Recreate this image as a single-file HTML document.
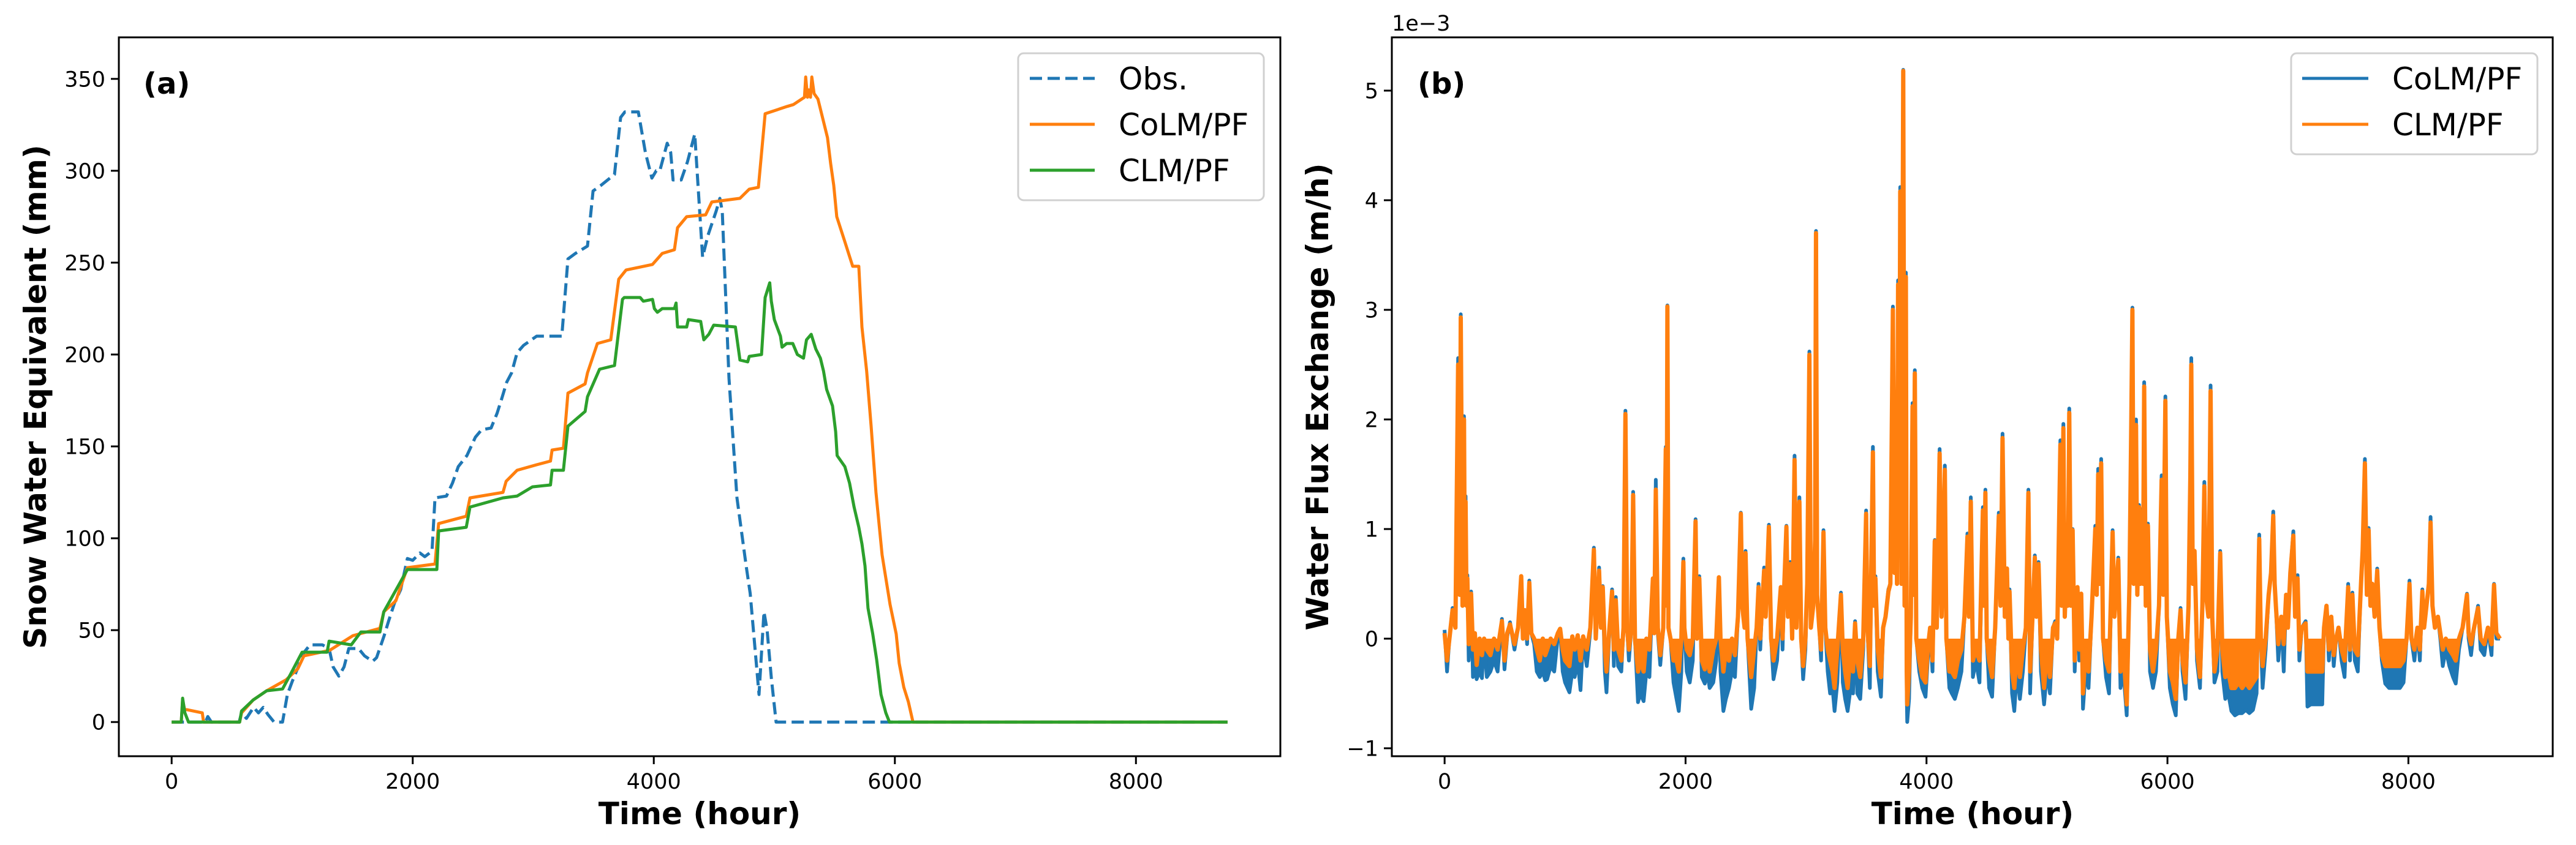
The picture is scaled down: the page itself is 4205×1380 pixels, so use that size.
<!DOCTYPE html>
<html><head><meta charset="utf-8"><style>
html,body{margin:0;padding:0;background:#fff;}
svg{display:block;font-family:"DejaVu Sans","Liberation Sans",sans-serif;}
</style></head><body>
<svg id="fig" width="4205" height="1380" viewBox="0 0 4205 1380" xmlns="http://www.w3.org/2000/svg">
<rect width="4205" height="1380" fill="#fff"/>
<g id="pa"></g>
<g id="pb"></g>
</svg>
<script>
// ---------- Panel (a) data: [hour, mm] ----------
const obsSWE = [[0,0],[280,0],[300,3],[330,0],[560,0],[580,5],[620,2],[680,8],[720,5],[760,8],[800,4],[850,0],[920,0],[960,15],[1000,22],[1050,30],[1100,38],[1148,42],[1250,42],[1306,40],[1340,30],[1387,25],[1430,30],[1470,40],[1550,40],[1600,36],[1667,33],[1700,35],[1763,47],[1800,55],[1850,65],[1900,72],[1956,89],[2000,88],[2060,92],[2100,90],[2160,93],[2185,122],[2280,123],[2330,130],[2378,139],[2450,145],[2520,155],[2571,159],[2650,160],[2700,168],[2734,175],[2780,185],[2820,190],[2866,201],[2920,205],[3028,210],[3237,210],[3288,252],[3350,255],[3450,259],[3496,289],[3560,292],[3674,298],[3725,329],[3760,332],[3872,332],[3930,310],[3984,296],[4020,300],[4050,300],[4111,315],[4140,310],[4160,295],[4227,295],[4280,305],[4340,320],[4405,253],[4450,265],[4517,278],[4548,285],[4568,278],[4624,187],[4690,122],[4766,85],[4800,70],[4873,15],[4914,60],[4940,50],[4975,24],[5015,0],[8760,0]];
const colmSWE = [[0,0],[80,0],[91,12],[107,7],[254,5],[265,0],[564,0],[580,5],[676,12],[788,17],[950,23],[1047,29],[1098,36],[1311,39],[1504,47],[1728,51],[1760,60],[1860,66],[1956,84],[2185,86],[2215,108],[2444,112],[2475,122],[2749,125],[2775,131],[2866,137],[3028,140],[3143,142],[3156,148],[3250,149],[3288,179],[3430,184],[3450,190],[3532,206],[3643,208],[3709,241],[3770,246],[3989,249],[4070,255],[4171,257],[4197,269],[4273,275],[4430,276],[4481,283],[4715,285],[4792,290],[4868,291],[4924,331],[5107,335],[5158,336],[5250,340],[5260,351],[5275,340],[5286,344],[5300,340],[5311,351],[5330,342],[5362,339],[5441,318],[5467,304],[5493,292],[5518,275],[5582,262],[5650,248],[5701,248],[5727,215],[5766,191],[5803,161],[5843,125],[5894,91],[5960,64],[6011,48],[6036,32],[6074,19],[6112,11],[6150,0],[8760,0]];
const clmSWE = [[0,0],[80,0],[91,13],[110,5],[140,0],[564,0],[580,6],[676,12],[788,17],[920,18],[986,26],[1082,38],[1290,38],[1306,44],[1490,42],[1570,49],[1728,49],[1760,60],[1956,83],[2200,83],[2215,104],[2444,106],[2475,117],[2749,122],[2866,123],[2993,128],[3143,129],[3156,137],[3250,137],[3288,161],[3430,169],[3450,177],[3550,192],[3674,194],[3740,230],[3755,231],[3887,231],[3913,229],[3989,230],[4005,225],[4030,223],[4070,225],[4171,225],[4185,228],[4197,215],[4273,215],[4287,219],[4389,218],[4415,208],[4456,211],[4497,216],[4677,215],[4715,197],[4779,196],[4792,199],[4894,200],[4924,231],[4962,239],[4975,229],[5000,219],[5051,210],[5064,204],[5102,206],[5153,206],[5191,200],[5242,198],[5267,208],[5306,211],[5344,203],[5382,198],[5408,191],[5434,181],[5483,172],[5509,158],[5521,145],[5585,139],[5624,130],[5662,117],[5701,106],[5727,97],[5752,85],[5777,62],[5816,48],[5849,34],[5885,15],[5925,5],[5955,0],[8760,0]];
const xTicks = [0,2000,4000,6000,8000];
const yTicksA = [0,50,100,150,200,250,300,350];
const yTicksB = [-1,0,1,2,3,4,5];
// ---------- Panel (b) data: [hour, CLM/PF (1e-3 m/h), CoLM/PF (1e-3 m/h)] ----------
const fluxRecords = [[0,0.05,0.08],[20,-0.2,-0.3],[40,0,0],[66,0.26,0.28],[90,0.1,0.1],[112,2.5,2.56],[125,0.4,0.4],[134,2.93,2.96],[149,0.3,0.3],[161,2.0,2.03],[168,0.4,0.4],[174,1.25,1.3],[182,0.3,0.3],[189,0.55,0.58],[200,-0.05,-0.2],[220,0.41,0.43],[235,-0.1,-0.35],[251,0.05,0.05],[266,-0.24,-0.37],[290,0,-0.3],[310,-0.15,-0.36],[328,0,0],[350,-0.1,-0.35],[380,-0.15,-0.3],[410,0,-0.2],[440,-0.1,-0.3],[476,0.16,0.18],[497,-0.2,-0.28],[520,0.05,0.02],[543,0.13,0.15],[580,-0.05,-0.1],[610,0.1,0.1],[636,0.57,0.57],[650,0,0],[666,0.26,0.26],[685,0,-0.05],[703,0.51,0.53],[720,0.05,0.05],[743,0,-0.05],[765,-0.1,-0.3],[790,-0.2,-0.35],[815,0,-0.3],[835,-0.15,-0.38],[851,-0.1,-0.37],[880,0,-0.25],[910,-0.05,-0.3],[940,0.05,0.02],[959,0.09,0.09],[980,-0.1,-0.3],[1000,-0.2,-0.4],[1036,-0.25,-0.49],[1060,0.02,-0.3],[1080,-0.1,-0.35],[1105,0.03,-0.2],[1128,-0.2,-0.47],[1150,0.02,0],[1180,-0.1,-0.25],[1210,0.1,0.08],[1239,0.81,0.83],[1255,0,0],[1282,0.62,0.65],[1298,0.1,0.1],[1313,0.47,0.48],[1330,-0.1,-0.3],[1344,-0.3,-0.49],[1365,0.05,0],[1390,0.43,0.45],[1405,-0.1,-0.25],[1421,0.35,0.38],[1440,-0.1,-0.25],[1467,-0.2,-0.3],[1485,0.1,0.1],[1501,2.05,2.08],[1515,0.1,0.1],[1530,-0.1,-0.2],[1550,0.1,0.1],[1565,1.31,1.34],[1580,0,0],[1605,-0.3,-0.58],[1625,-0.2,-0.5],[1652,-0.3,-0.57],[1675,0,-0.3],[1700,-0.1,-0.35],[1729,0.55,0.55],[1740,0.05,0.05],[1753,1.36,1.45],[1770,0.1,0.05],[1790,-0.15,-0.24],[1815,0.1,0.1],[1836,1.73,1.75],[1843,0.3,0.3],[1849,3.03,3.04],[1858,0.1,0.1],[1875,0,0],[1900,-0.2,-0.4],[1925,-0.2,-0.55],[1944,-0.3,-0.66],[1965,0,-0.3],[1982,0.7,0.73],[1990,0.1,0.1],[2010,-0.1,-0.3],[2035,-0.15,-0.4],[2060,0,-0.2],[2083,1.07,1.09],[2095,0,0],[2114,0.55,0.57],[2135,-0.2,-0.35],[2160,-0.28,-0.41],[2180,-0.1,-0.3],[2200,-0.3,-0.45],[2230,-0.1,-0.4],[2255,0,-0.2],[2277,0.56,0.56],[2290,0,-0.3],[2314,-0.3,-0.66],[2335,-0.1,-0.55],[2360,-0.2,-0.45],[2385,0,-0.3],[2410,-0.15,-0.35],[2435,0.2,0.2],[2459,1.14,1.15],[2470,0.3,0.3],[2490,0.1,0.1],[2498,0.78,0.8],[2515,0,0],[2545,-0.35,-0.64],[2570,-0.1,-0.45],[2590,0.1,0.1],[2606,0.47,0.5],[2620,0,-0.1],[2636,0.3,0.3],[2652,0.62,0.65],[2665,0.2,0.2],[2692,1.02,1.04],[2710,0,0],[2730,-0.2,-0.37],[2760,0,-0.2],[2791,0.47,0.47],[2805,0,-0.1],[2820,0.5,0.5],[2837,1.02,1.03],[2850,0.2,0.2],[2868,0.68,0.7],[2885,0,0],[2905,1.63,1.67],[2920,0.1,0.1],[2945,1.25,1.29],[2960,0,0],[2976,-0.25,-0.37],[2995,0,-0.1],[3010,0.5,0.5],[3028,2.59,2.62],[3040,0.1,0.1],[3060,0.3,0.3],[3075,0.9,0.9],[3083,3.7,3.72],[3092,0.4,0.4],[3110,0.1,0.1],[3125,-0.1,-0.2],[3145,0.97,0.99],[3160,0.1,0.1],[3180,-0.1,-0.3],[3200,-0.2,-0.5],[3220,-0.3,-0.45],[3237,-0.45,-0.66],[3260,-0.1,-0.4],[3290,0.4,0.42],[3305,-0.1,-0.4],[3325,-0.3,-0.55],[3345,-0.45,-0.66],[3370,-0.1,-0.45],[3390,-0.3,-0.5],[3407,0.14,0.16],[3425,-0.2,-0.5],[3450,-0.35,-0.55],[3475,0,-0.1],[3499,1.14,1.17],[3510,0.1,0.1],[3530,-0.25,-0.45],[3555,1.7,1.75],[3565,0.3,0.3],[3576,0.55,0.57],[3595,-0.1,-0.3],[3622,-0.35,-0.53],[3640,0.1,0.1],[3660,0.2,0.2],[3684,0.43,0.45],[3700,0.5,0.5],[3721,3.0,3.03],[3735,0.6,0.6],[3746,1.7,1.72],[3755,0.5,0.5],[3764,3.23,3.27],[3773,0.8,0.8],[3782,4.08,4.12],[3792,0.5,0.5],[3807,5.18,5.19],[3818,0.3,0.3],[3829,3.3,3.34],[3836,-0.3,-0.5],[3840,-0.6,-0.76],[3855,-0.3,-0.55],[3870,0.2,0.2],[3884,2.12,2.15],[3893,0.4,0.4],[3903,2.42,2.45],[3915,0,0],[3940,-0.2,-0.3],[3965,-0.35,-0.45],[3992,-0.4,-0.53],[4010,-0.1,-0.2],[4030,0.1,0.1],[4050,-0.2,-0.3],[4069,0.89,0.9],[4085,0.1,0.1],[4109,1.69,1.73],[4125,0.2,0.2],[4152,1.54,1.58],[4165,0,0],[4190,-0.3,-0.45],[4210,-0.3,-0.5],[4235,-0.35,-0.55],[4260,-0.2,-0.45],[4290,-0.1,-0.3],[4315,0.2,0.2],[4340,0.93,0.96],[4352,0.2,0.2],[4368,1.25,1.29],[4385,-0.2,-0.35],[4410,-0.1,-0.2],[4440,-0.2,-0.4],[4468,1.17,1.2],[4478,0.3,0.3],[4489,1.33,1.36],[4500,0,0],[4520,-0.2,-0.45],[4545,-0.35,-0.53],[4570,0.1,0.1],[4600,1.12,1.15],[4615,0.3,0.3],[4631,1.83,1.87],[4650,0.2,0.2],[4668,0.64,0.64],[4680,0,0],[4689,0.43,0.45],[4710,-0.3,-0.5],[4729,-0.45,-0.66],[4750,-0.1,-0.3],[4775,-0.35,-0.55],[4800,-0.1,-0.3],[4825,0.1,0.1],[4846,1.33,1.36],[4860,-0.3,-0.5],[4880,0.2,0.2],[4899,0.74,0.76],[4912,0.2,0.2],[4930,0.68,0.7],[4950,-0.1,-0.3],[4976,-0.45,-0.6],[5000,-0.1,-0.3],[5025,-0.35,-0.5],[5050,0.1,0.1],[5068,0.14,0.16],[5085,0,0],[5111,1.77,1.81],[5122,0.3,0.3],[5136,1.92,1.96],[5148,0.2,0.2],[5161,0.64,0.64],[5172,0.3,0.3],[5185,2.06,2.1],[5198,0.3,0.3],[5213,0.99,1.0],[5230,-0.2,-0.3],[5253,0.47,0.47],[5268,-0.1,-0.2],[5284,0.41,0.41],[5299,-0.5,-0.64],[5320,-0.1,-0.3],[5345,-0.3,-0.45],[5370,0.2,0.2],[5401,1.0,1.03],[5413,0.4,0.4],[5425,1.5,1.55],[5437,0.5,0.5],[5450,1.6,1.64],[5465,0,0],[5490,-0.2,-0.35],[5515,-0.3,-0.5],[5545,0.97,0.99],[5560,0.2,0.2],[5592,0.72,0.74],[5610,-0.3,-0.45],[5635,-0.1,-0.3],[5662,-0.6,-0.7],[5685,0.5,0.5],[5700,2.0,2.0],[5709,3.0,3.02],[5720,0.5,0.5],[5739,1.95,2.0],[5750,0.4,0.4],[5764,1.2,1.22],[5775,0.5,0.5],[5786,1.16,1.18],[5797,0.5,0.5],[5807,2.3,2.34],[5820,0.3,0.3],[5838,1.03,1.05],[5855,-0.1,-0.3],[5880,-0.3,-0.45],[5905,-0.1,-0.3],[5930,0.3,0.3],[5952,1.45,1.49],[5965,0.4,0.4],[5983,2.17,2.21],[5995,0.2,0.2],[6020,-0.3,-0.45],[6045,-0.4,-0.6],[6069,-0.55,-0.7],[6090,0,0],[6109,0.26,0.28],[6125,-0.2,-0.3],[6150,-0.4,-0.55],[6175,0.3,0.3],[6190,1.5,1.5],[6198,2.5,2.56],[6210,0.5,0.5],[6225,0.8,0.8],[6245,-0.1,-0.2],[6270,-0.35,-0.45],[6290,0.3,0.3],[6306,1.39,1.43],[6320,0.4,0.4],[6340,0.2,0.2],[6358,2.26,2.31],[6372,0.2,0.2],[6390,-0.3,-0.4],[6415,-0.1,-0.3],[6438,0.78,0.8],[6455,-0.1,-0.3],[6480,-0.35,-0.55],[6505,-0.3,-0.5],[6531,-0.45,-0.66],[6560,-0.45,-0.7],[6590,-0.4,-0.68],[6620,-0.45,-0.68],[6650,-0.4,-0.65],[6680,-0.45,-0.68],[6710,-0.4,-0.65],[6740,-0.35,-0.5],[6762,0.91,0.95],[6775,0,0],[6790,-0.25,-0.45],[6815,0,-0.1],[6840,0.4,0.4],[6860,0.6,0.6],[6878,1.12,1.16],[6890,0.5,0.5],[6900,0.3,0.3],[6920,-0.05,-0.2],[6945,0.2,0.2],[6965,-0.05,-0.3],[6985,0.4,0.4],[7000,0.1,0.1],[7020,0.6,0.6],[7045,0.94,0.98],[7060,0.2,0.2],[7080,0.55,0.58],[7095,-0.1,-0.2],[7115,0.1,0.1],[7147,0.14,0.16],[7162,-0.3,-0.62],[7190,-0.3,-0.6],[7220,-0.3,-0.6],[7250,-0.3,-0.6],[7285,-0.3,-0.6],[7300,0.1,0.1],[7320,0.3,0.3],[7340,-0.1,-0.2],[7360,0.2,0.2],[7380,-0.15,-0.25],[7400,0,0],[7420,0.1,0.1],[7445,-0.1,-0.2],[7470,-0.2,-0.35],[7500,0.47,0.5],[7515,-0.1,-0.2],[7535,0.4,0.42],[7555,-0.1,-0.2],[7580,-0.15,-0.3],[7608,0.53,0.55],[7620,0.8,0.8],[7639,1.6,1.64],[7655,0.4,0.4],[7670,0.99,1.01],[7685,0.3,0.3],[7700,0.5,0.5],[7720,0.2,0.2],[7741,0.62,0.64],[7760,0.1,0.1],[7780,-0.15,-0.2],[7808,-0.25,-0.41],[7840,-0.25,-0.45],[7870,-0.25,-0.45],[7900,-0.25,-0.45],[7930,-0.25,-0.45],[7960,-0.2,-0.4],[7985,0,0],[8009,0.5,0.53],[8025,0,0],[8050,-0.1,-0.2],[8075,0.1,0.1],[8095,-0.1,-0.2],[8116,0.43,0.45],[8130,0.1,0.1],[8150,0.3,0.3],[8170,0.5,0.5],[8184,1.06,1.11],[8200,0.3,0.3],[8220,0.1,0.1],[8245,0.2,0.2],[8265,0.05,0],[8285,-0.1,-0.25],[8310,0,-0.1],[8340,-0.1,-0.25],[8370,-0.15,-0.35],[8393,-0.2,-0.41],[8420,0,-0.1],[8450,0.1,0.1],[8486,0.4,0.41],[8500,0.05,0],[8520,-0.05,-0.15],[8545,0.1,0.1],[8578,0.28,0.3],[8600,0,-0.1],[8630,-0.05,-0.15],[8660,0.1,0.1],[8690,-0.05,-0.15],[8711,0.49,0.5],[8730,0.05,0],[8760,0,0]];

const NS = "http://www.w3.org/2000/svg";
function mk(parent, tag, attrs, text){
  const e = document.createElementNS(NS, tag);
  for (const k in attrs) e.setAttribute(k, attrs[k]);
  if (text !== undefined) e.textContent = text;
  parent.appendChild(e);
  return e;
}
const XMIN = -438, XMAX = 9198;
function makeAxes(L, R, T, B, ymin, ymax){
  return {
    x: v => L + (v - XMIN) / (XMAX - XMIN) * (R - L),
    y: v => B - (v - ymin) / (ymax - ymin) * (B - T),
    L, R, T, B
  };
}
const axA = makeAxes(194, 2090, 61, 1235, -18.6, 372.6);
const axB = makeAxes(2272, 4167, 61, 1235, -1.0725, 5.486);

function drawFrame(g, ax, yTicks, fmt, pfx){
  for (const t of xTicks){
    const x = ax.x(t);
    const tk = mk(g, 'line', {x1:x, x2:x, y1:ax.B, y2:ax.B+13, stroke:'#000', 'stroke-width':3});
    
    
    const lb = mk(g, 'text', {x:x, y:1288, 'font-size':35, 'text-anchor':'middle', fill:'#000'}, String(t));
    
    
  }
  for (const t of yTicks){
    const y = ax.y(t);
    const tk = mk(g, 'line', {x1:ax.L-13, x2:ax.L, y1:y, y2:y, stroke:'#000', 'stroke-width':3});
    
    
    const lb = mk(g, 'text', {x:ax.L-22, y:y+12.5, 'font-size':35, 'text-anchor':'end', fill:'#000'}, fmt(t));
    
    
  }
}
function drawBox(g, ax, pfx){
  const r = mk(g, 'rect', {x:ax.L, y:ax.T, width:ax.R-ax.L, height:ax.B-ax.T, fill:'none', stroke:'#000', 'stroke-width':3});
  
  
}
function pathOf(ax, pts, yi){
  return pts.map((p,i)=> (i?'L':'M') + ax.x(p[0]).toFixed(1) + ',' + ax.y(p[yi]).toFixed(1)).join('');
}
function areaOf(ax, pts, yi){
  const y0 = ax.y(0).toFixed(1);
  return 'M' + ax.x(pts[0][0]).toFixed(1) + ',' + y0 +
    pts.map(p=> 'L' + ax.x(p[0]).toFixed(1) + ',' + ax.y(p[yi]).toFixed(1)).join('') +
    'L' + ax.x(pts[pts.length-1][0]).toFixed(1) + ',' + y0 + 'Z';
}

// ---------- Panel A ----------
const ga = document.getElementById('pa');
drawFrame(ga, axA, yTicksA, v=>String(v), 'a');
const clipA = mk(ga, 'clipPath', {id:'clipA'});
mk(clipA, 'rect', {x:axA.L, y:axA.T, width:axA.R-axA.L, height:axA.B-axA.T});
const sa = mk(ga, 'g', {'clip-path':'url(#clipA)'});
const pObs = mk(sa, 'path', {d:pathOf(axA, obsSWE, 1), fill:'none', stroke:'#1f77b4', 'stroke-width':5, 'stroke-dasharray':'20,9', 'stroke-linejoin':'round'});


const pCo = mk(sa, 'path', {d:pathOf(axA, colmSWE, 1), fill:'none', stroke:'#ff7f0e', 'stroke-width':5, 'stroke-linejoin':'round'});


const pCl = mk(sa, 'path', {d:pathOf(axA, clmSWE, 1), fill:'none', stroke:'#2ca02c', 'stroke-width':5, 'stroke-linejoin':'round'});


drawBox(ga, axA, 'a');
let t;
t = mk(ga, 'text', {x:234, y:153, 'font-size':48, 'font-weight':'bold'}, '(a)');


t = mk(ga, 'text', {x:1142, y:1346, 'font-size':50, 'font-weight':'bold', 'text-anchor':'middle'}, 'Time (hour)');


t = mk(ga, 'text', {x:0, y:0, 'font-size':50, 'font-weight':'bold', 'text-anchor':'middle', transform:'translate(75,648) rotate(-90)'}, 'Snow Water Equivalent (mm)');


const lgA = mk(ga, 'g', {});


mk(lgA, 'rect', {x:1662, y:87, width:401, height:240, rx:9, fill:'#fff', 'fill-opacity':0.8, stroke:'#d0d0d0', 'stroke-width':3});
const legA = [['Obs.','#1f77b4','20,9'],['CoLM/PF','#ff7f0e',''],['CLM/PF','#2ca02c','']];
legA.forEach((e,i)=>{
  const y = 128 + i*75;
  const en = mk(lgA, 'g', {});
  
  
  const a = {x1:1681, x2:1787, y1:y, y2:y, stroke:e[1], 'stroke-width':5};
  if (e[2]) a['stroke-dasharray'] = e[2];
  mk(en, 'line', a);
  mk(en, 'text', {x:1826, y:y+18, 'font-size':50}, e[0]);
});

// ---------- Panel B ----------
const gb = document.getElementById('pb');
drawFrame(gb, axB, yTicksB, v=> v<0 ? '\u2212'+Math.abs(v) : String(v), 'b');
const clipB = mk(gb, 'clipPath', {id:'clipB'});
mk(clipB, 'rect', {x:axB.L, y:axB.T, width:axB.R-axB.L, height:axB.B-axB.T});
const clipNeg = mk(gb, 'clipPath', {id:'clipNeg'});
mk(clipNeg, 'rect', {x:axB.L, y:axB.y(0), width:axB.R-axB.L, height:axB.B-axB.y(0)});
const sb = mk(gb, 'g', {'clip-path':'url(#clipB)'});
const negG = mk(sb, 'g', {'clip-path':'url(#clipNeg)'});
const aColm = mk(negG, 'path', {d:areaOf(axB, fluxRecords, 2), fill:'#1f77b4', stroke:'none'});


const pColm = mk(sb, 'path', {d:pathOf(axB, fluxRecords, 2), fill:'none', stroke:'#1f77b4', 'stroke-width':6, 'stroke-linejoin':'round'});


const negG2 = mk(sb, 'g', {'clip-path':'url(#clipNeg)'});
const aClm = mk(negG2, 'path', {d:areaOf(axB, fluxRecords, 1), fill:'#ff7f0e', stroke:'none'});


const pClm = mk(sb, 'path', {d:pathOf(axB, fluxRecords, 1), fill:'none', stroke:'#ff7f0e', 'stroke-width':7, 'stroke-linejoin':'round'});


drawBox(gb, axB, 'b');
t = mk(gb, 'text', {x:2314, y:153, 'font-size':48, 'font-weight':'bold'}, '(b)');


t = mk(gb, 'text', {x:2272, y:50, 'font-size':35}, '1e\u22123');


t = mk(gb, 'text', {x:3220, y:1346, 'font-size':50, 'font-weight':'bold', 'text-anchor':'middle'}, 'Time (hour)');


t = mk(gb, 'text', {x:0, y:0, 'font-size':50, 'font-weight':'bold', 'text-anchor':'middle', transform:'translate(2168,648) rotate(-90)'}, 'Water Flux Exchange  (m/h)');


const lgB = mk(gb, 'g', {});


mk(lgB, 'rect', {x:3740, y:87, width:402, height:165, rx:9, fill:'#fff', 'fill-opacity':0.8, stroke:'#d0d0d0', 'stroke-width':3});
const legB = [['CoLM/PF','#1f77b4'],['CLM/PF','#ff7f0e']];
legB.forEach((e,i)=>{
  const y = 128 + i*75;
  const en = mk(lgB, 'g', {});
  
  
  mk(en, 'line', {x1:3758, x2:3866, y1:y, y2:y, stroke:e[1], 'stroke-width':5});
  mk(en, 'text', {x:3905, y:y+18, 'font-size':50}, e[0]);
});
</script>
</body></html>
